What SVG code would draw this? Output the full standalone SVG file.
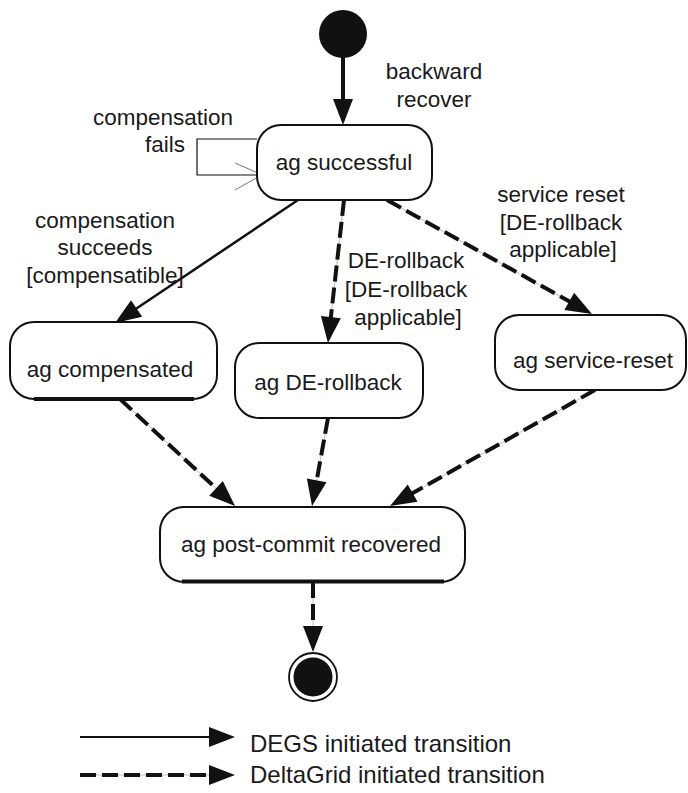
<svg xmlns="http://www.w3.org/2000/svg" width="688" height="793" viewBox="0 0 688 793">
  <style>
    text { font-family: "Liberation Sans", Arial, sans-serif; font-size: 22.5px; fill: #1a1a1a; }
    .mid { text-anchor: middle; }
    .legend { font-size: 24px; }
    .state { fill: #fff; stroke: #111; stroke-width: 2; }
    .shadow { stroke: #111; stroke-width: 4; fill: none; }
    .solid { stroke: #111; fill: none; }
    .dash { stroke: #111; stroke-width: 4; stroke-dasharray: 16 6; fill: none; }
    .dashbg { stroke: #bbb; stroke-width: 1; fill: none; }
  </style>
  <defs>
    <marker id="head" markerUnits="userSpaceOnUse" markerWidth="26" markerHeight="20" refX="6" refY="10" orient="auto" overflow="visible">
      <path d="M0,0 L26,10 L0,20 z" fill="#111"/>
    </marker>
  </defs>

  <rect width="688" height="793" fill="#fff"/>

  <!-- connectors -->
  <g id="connectors">
    <!-- initial -> ag successful -->
    <line class="solid" x1="343" y1="57" x2="343" y2="105" stroke-width="4" marker-end="url(#head)"/>
    <!-- self loop: compensation fails -->
    <polyline class="solid" points="257,139 197,139 197,175 257,175" stroke-width="1.2"/>
    <line x1="235" y1="163" x2="258" y2="173" stroke="#777" stroke-width="1"/>
    <line x1="235" y1="190" x2="258" y2="177" stroke="#777" stroke-width="1"/>
    <!-- compensation succeeds -->
    <line class="solid" x1="298" y1="200" x2="131.6" y2="311.8" stroke-width="2.5" marker-end="url(#head)"/>
    <!-- DE-rollback -->
    <line class="dashbg" x1="344" y1="200" x2="330.2" y2="323.1"/>
    <line class="dash" x1="344" y1="200" x2="330.2" y2="323.1" marker-end="url(#head)"/>
    <!-- service reset -->
    <line class="dashbg" x1="387" y1="200" x2="574.5" y2="304.3"/>
    <line class="dash" x1="387" y1="200" x2="574.5" y2="304.3" marker-end="url(#head)"/>
    <!-- compensated -> post-commit -->
    <line class="dashbg" x1="120" y1="399" x2="220.4" y2="492.4"/>
    <line class="dash" x1="120" y1="399" x2="220.4" y2="492.4" marker-end="url(#head)"/>
    <!-- DE-rollback -> post-commit -->
    <line class="dashbg" x1="328" y1="418" x2="315.6" y2="486.3"/>
    <line class="dash" x1="328" y1="418" x2="315.6" y2="486.3" marker-end="url(#head)"/>
    <!-- service-reset -> post-commit -->
    <line class="dashbg" x1="595" y1="390" x2="407.4" y2="496.1"/>
    <line class="dash" x1="595" y1="390" x2="407.4" y2="496.1" marker-end="url(#head)"/>
    <!-- post-commit -> final -->
    <line class="dashbg" x1="313" y1="582" x2="313" y2="632"/>
    <line class="dash" x1="313" y1="582" x2="313" y2="632" marker-end="url(#head)"/>
  </g>

  <!-- transition labels -->
  <g id="labels">
    <text class="mid" x="434" y="79">backward</text>
    <text class="mid" x="434" y="107">recover</text>
    <text class="mid" x="163" y="125">compensation</text>
    <text class="mid" x="165" y="152">fails</text>
    <text class="mid" x="105" y="228">compensation</text>
    <text class="mid" x="105" y="255">succeeds</text>
    <text class="mid" x="105" y="283">[compensatible]</text>
    <text class="mid" x="406" y="268">DE-rollback</text>
    <text class="mid" x="406" y="297">[DE-rollback</text>
    <text class="mid" x="408" y="325">applicable]</text>
    <text class="mid" x="561" y="202">service reset</text>
    <text class="mid" x="561" y="230">[DE-rollback</text>
    <text class="mid" x="563" y="257">applicable]</text>
  </g>

  <!-- states -->
  <g id="initial">
    <circle cx="343" cy="34" r="24" fill="#111"/>
  </g>
  <g id="ag-successful">
    <rect class="state" x="257" y="125" width="175" height="75" rx="24"/>
    <text class="mid" x="344" y="170">ag successful</text>
  </g>
  <g id="ag-compensated">
    <rect class="state" x="10" y="322" width="207" height="77" rx="24"/>
    <line class="shadow" x1="34" y1="399" x2="194" y2="399"/>
    <text class="mid" x="110" y="377">ag compensated</text>
  </g>
  <g id="ag-de-rollback">
    <rect class="state" x="235" y="343" width="188" height="75" rx="24"/>
    <text class="mid" x="328" y="390">ag DE-rollback</text>
  </g>
  <g id="ag-service-reset">
    <rect class="state" x="495" y="315" width="191" height="75" rx="24"/>
    <text class="mid" x="593" y="368">ag service-reset</text>
  </g>
  <g id="ag-post-commit-recovered">
    <rect class="state" x="160" y="507" width="305" height="75" rx="24"/>
    <line class="shadow" x1="182" y1="581.5" x2="444" y2="581.5" stroke-width="3"/>
    <text class="mid" x="311" y="552">ag post-commit recovered</text>
  </g>
  <g id="final">
    <circle cx="313" cy="677" r="24" fill="#fff" stroke="#111" stroke-width="1.8"/>
    <circle cx="313" cy="677" r="19.5" fill="#111"/>
  </g>

  <!-- legend -->
  <g id="legend">
    <line class="solid" x1="80" y1="737" x2="215" y2="737" stroke-width="2" marker-end="url(#head)"/>
    <text class="legend" x="250" y="752">DEGS initiated transition</text>
    <line class="dashbg" x1="80" y1="775" x2="215" y2="775"/>
    <line class="dash" x1="80" y1="775" x2="215" y2="775" marker-end="url(#head)"/>
    <text class="legend" x="250" y="783">DeltaGrid initiated transition</text>
  </g>
</svg>
